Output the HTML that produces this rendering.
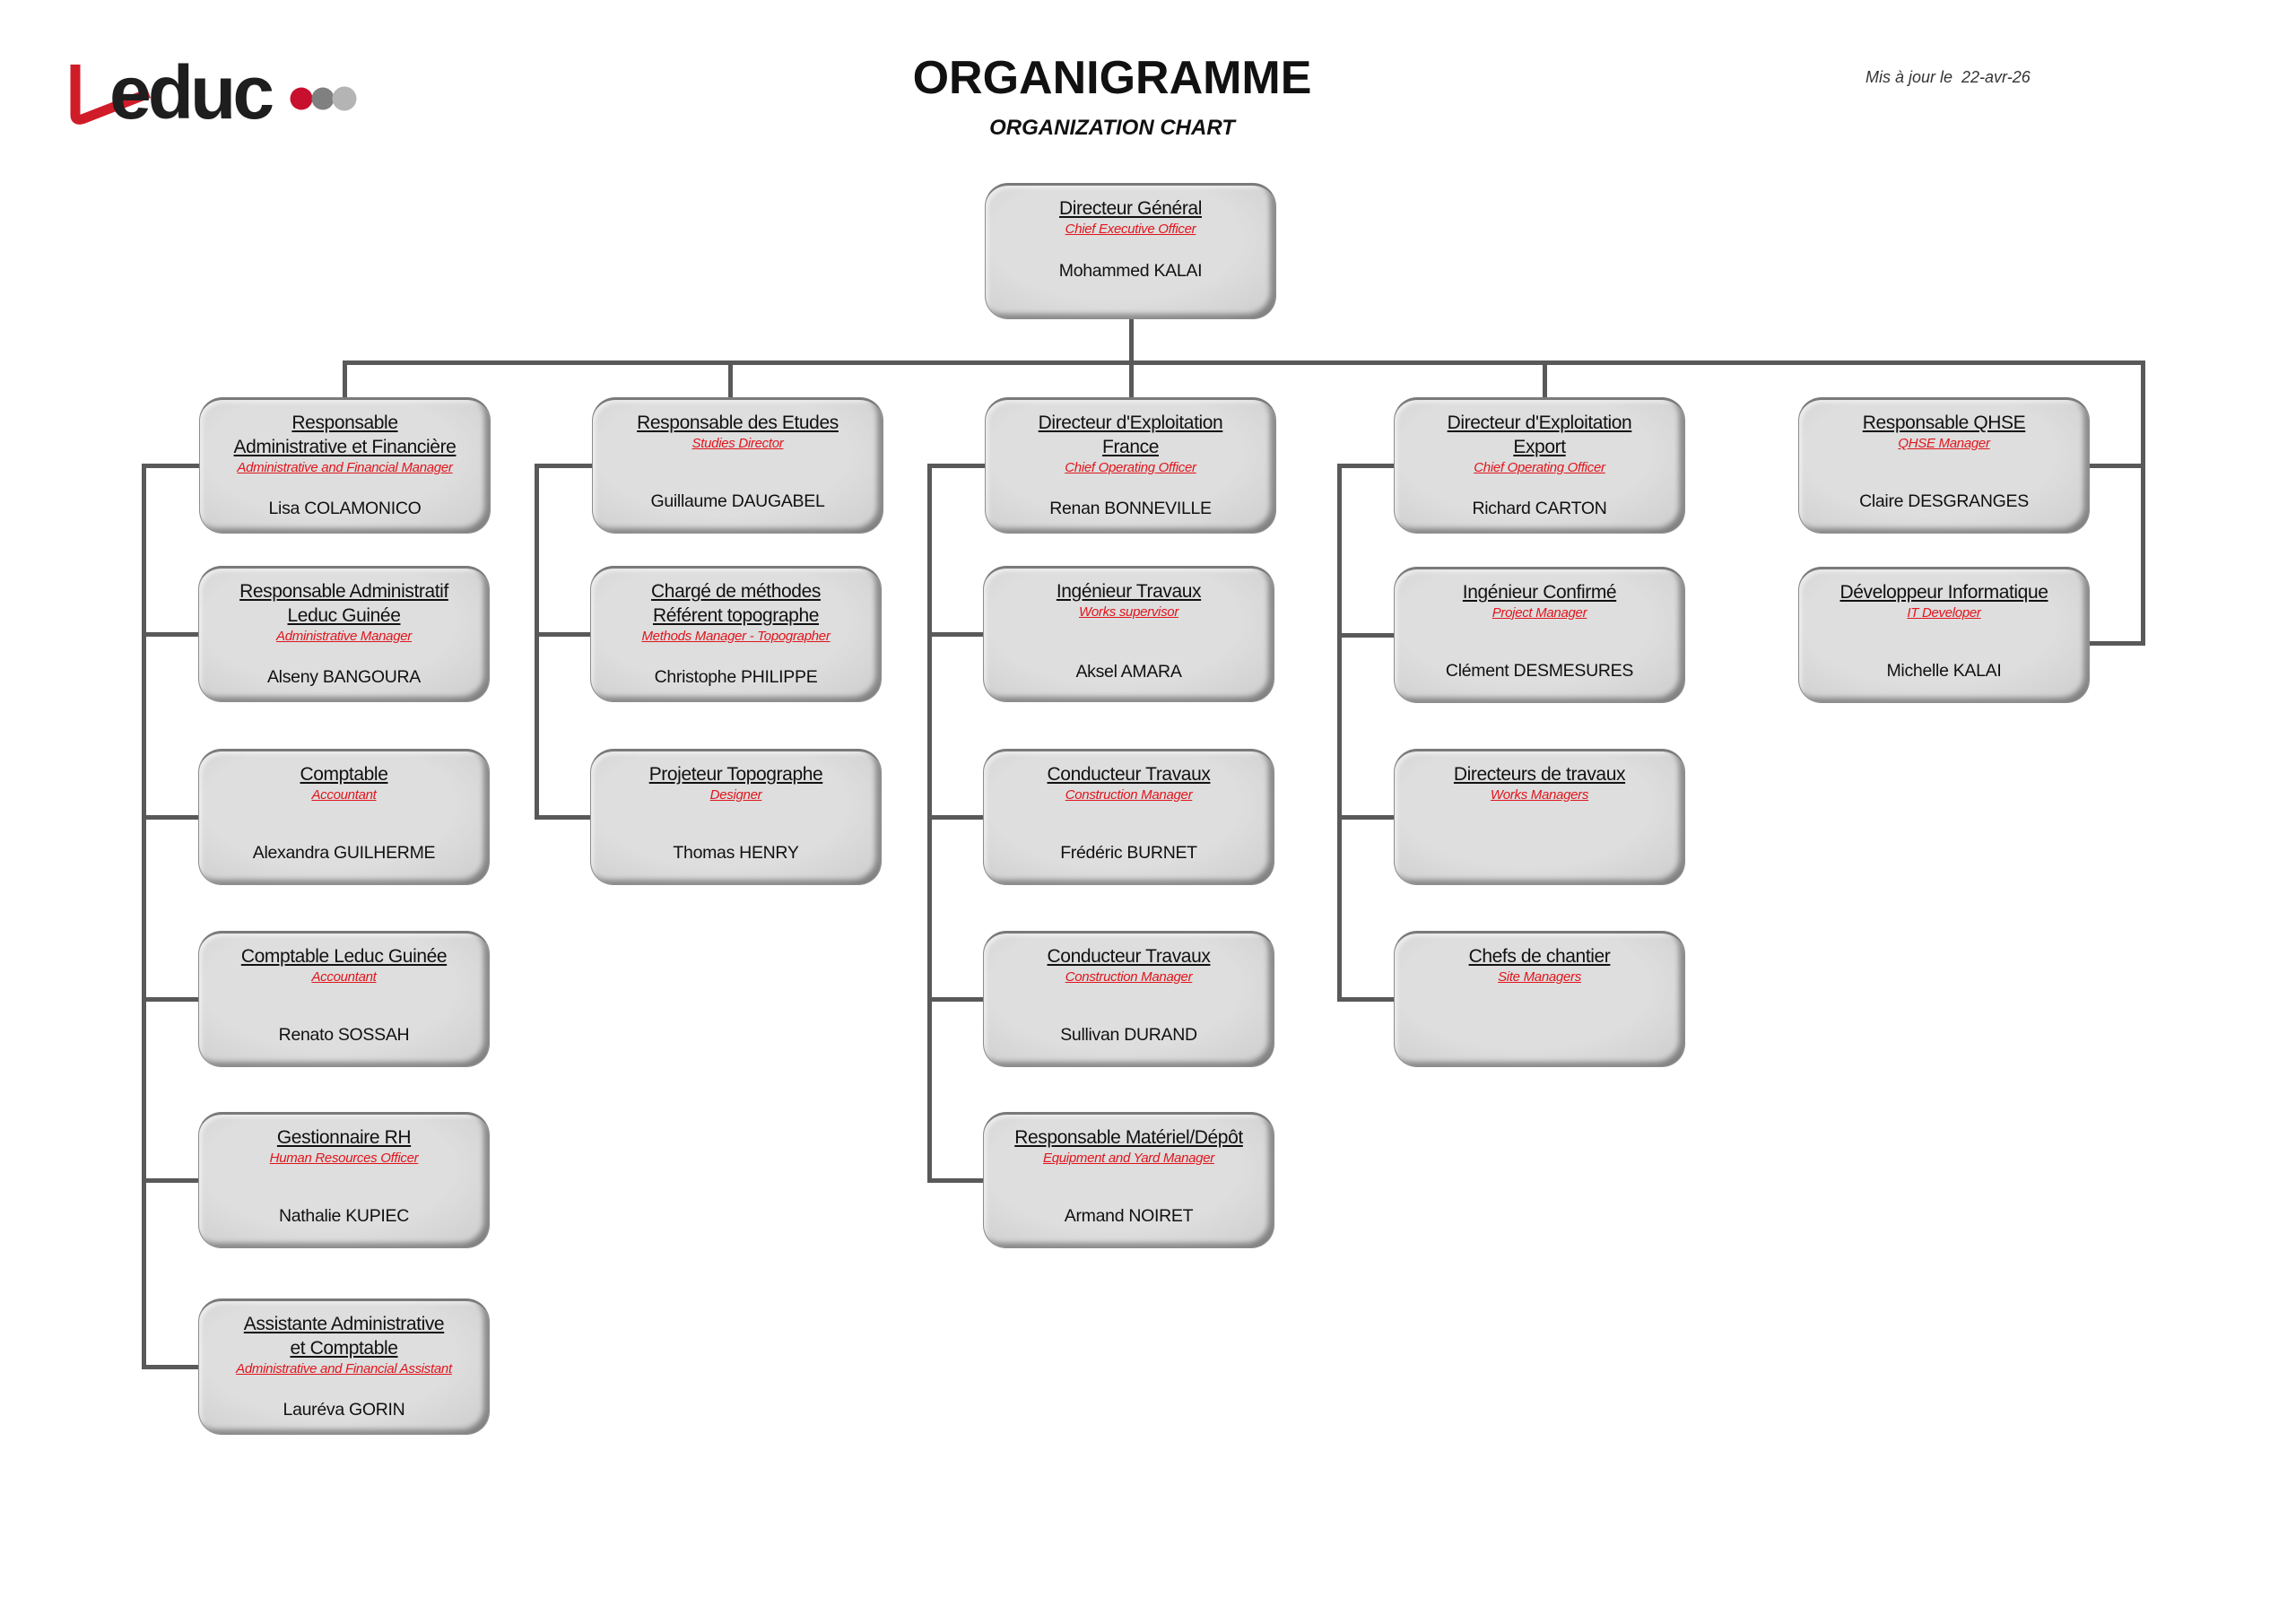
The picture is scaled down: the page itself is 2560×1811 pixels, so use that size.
<!DOCTYPE html>
<html><head><meta charset="utf-8"><style>
html,body{margin:0;padding:0;background:#fff}
body{width:2560px;height:1811px;position:relative;overflow:hidden;font-family:"Liberation Sans",sans-serif}
.l{position:absolute;background:#595959}
.b{position:absolute;width:325px;height:152px;box-sizing:border-box;border-radius:26px;background:radial-gradient(ellipse at 45% 40%,#dedede 55%,#d2d2d2 85%,#bdbdbd 100%);border:1.5px solid #8c8c8c;border-top:3px solid #7a7a7a;box-shadow:inset -6px -5px 6px rgba(0,0,0,.35),inset 3px 3px 4px rgba(255,255,255,.5);text-align:center;padding-top:12px}
.t{font-size:21px;line-height:27px;color:#111;letter-spacing:-0.4px}
.t span,.s span{text-decoration:underline}
.s{font-size:15px;line-height:19px;font-style:italic;color:#e0151c;letter-spacing:-0.3px}
.n{position:absolute;left:0;right:0;font-size:19.5px;line-height:26px;color:#111;top:100px;letter-spacing:-0.3px}
.b2 .n{top:108px}
</style></head><body>

<svg style="position:absolute;left:70px;top:60px" width="350" height="90" viewBox="0 0 350 90">
<path d="M14 12 L14 68 Q14 76 24 72 L96 44" fill="none" stroke="#d01c28" stroke-width="11" stroke-linejoin="round"/>
<text x="52" y="72" font-family="Liberation Sans" font-weight="bold" font-size="84" fill="#1e1e1e" letter-spacing="-4">educ</text>
<circle cx="266" cy="50" r="12.5" fill="#c8102e"/>
<circle cx="290" cy="50" r="12.5" fill="#808080"/>
<circle cx="314" cy="50" r="13.5" fill="#b4b4b4"/>
</svg>

<div style="position:absolute;left:940px;width:600px;top:55px;text-align:center;font-weight:bold;font-size:52px;line-height:64px;color:#111">ORGANIGRAMME</div>
<div style="position:absolute;left:940px;width:600px;top:128px;text-align:center;font-weight:bold;font-style:italic;font-size:24px;line-height:30px;color:#111">ORGANIZATION CHART</div>
<div style="position:absolute;left:2080px;top:74px;font-style:italic;font-size:18px;line-height:24px;color:#333;white-space:pre">Mis à jour le  22-avr-26</div>

<div class="l" style="left:1259px;top:355px;width:5px;height:51px"></div>
<div class="l" style="left:382px;top:402px;width:2010px;height:5px"></div>
<div class="l" style="left:382px;top:402px;width:5px;height:42px"></div>
<div class="l" style="left:812px;top:402px;width:5px;height:42px"></div>
<div class="l" style="left:1259px;top:402px;width:5px;height:42px"></div>
<div class="l" style="left:1720px;top:402px;width:5px;height:42px"></div>
<div class="l" style="left:2387px;top:402px;width:5px;height:318px"></div>
<div class="l" style="left:2328px;top:517px;width:64px;height:5px"></div>
<div class="l" style="left:2328px;top:715px;width:64px;height:5px"></div>

<div class="l" style="left:158px;top:517px;width:5px;height:1010px"></div>
<div class="l" style="left:158px;top:517px;width:66px;height:5px"></div>
<div class="l" style="left:158px;top:705px;width:66px;height:5px"></div>
<div class="l" style="left:158px;top:909px;width:66px;height:5px"></div>
<div class="l" style="left:158px;top:1112px;width:66px;height:5px"></div>
<div class="l" style="left:158px;top:1314px;width:66px;height:5px"></div>
<div class="l" style="left:158px;top:1522px;width:66px;height:5px"></div>

<div class="l" style="left:596px;top:517px;width:5px;height:396px"></div>
<div class="l" style="left:596px;top:517px;width:66px;height:5px"></div>
<div class="l" style="left:596px;top:705px;width:66px;height:5px"></div>
<div class="l" style="left:596px;top:909px;width:66px;height:5px"></div>

<div class="l" style="left:1034px;top:517px;width:5px;height:800px"></div>
<div class="l" style="left:1034px;top:517px;width:66px;height:5px"></div>
<div class="l" style="left:1034px;top:705px;width:66px;height:5px"></div>
<div class="l" style="left:1034px;top:909px;width:66px;height:5px"></div>
<div class="l" style="left:1034px;top:1112px;width:66px;height:5px"></div>
<div class="l" style="left:1034px;top:1314px;width:66px;height:5px"></div>

<div class="l" style="left:1491px;top:517px;width:5px;height:598px"></div>
<div class="l" style="left:1491px;top:517px;width:66px;height:5px"></div>
<div class="l" style="left:1491px;top:706px;width:66px;height:5px"></div>
<div class="l" style="left:1491px;top:909px;width:66px;height:5px"></div>
<div class="l" style="left:1491px;top:1112px;width:66px;height:5px"></div>

<div class="b" style="left:1098px;top:204px"><div class="t"><span>Directeur Général</span></div><div class="s"><span>Chief Executive Officer</span></div><div class="n" style="top:82px">Mohammed KALAI</div></div>

<div class="b b2" style="left:222px;top:443px"><div class="t"><span>Responsable</span><br><span>Administrative et Financière</span></div><div class="s"><span>Administrative and Financial Manager</span></div><div class="n">Lisa COLAMONICO</div></div>
<div class="b" style="left:660px;top:443px"><div class="t"><span>Responsable des Etudes</span></div><div class="s"><span>Studies Director</span></div><div class="n">Guillaume DAUGABEL</div></div>
<div class="b b2" style="left:1098px;top:443px"><div class="t"><span>Directeur d'Exploitation</span><br><span>France</span></div><div class="s"><span>Chief Operating Officer</span></div><div class="n">Renan BONNEVILLE</div></div>
<div class="b b2" style="left:1554px;top:443px"><div class="t"><span>Directeur d'Exploitation</span><br><span>Export</span></div><div class="s"><span>Chief Operating Officer</span></div><div class="n">Richard CARTON</div></div>
<div class="b" style="left:2005px;top:443px"><div class="t"><span>Responsable QHSE</span></div><div class="s"><span>QHSE Manager</span></div><div class="n">Claire DESGRANGES</div></div>

<div class="b b2" style="left:221px;top:631px"><div class="t"><span>Responsable Administratif</span><br><span>Leduc Guinée</span></div><div class="s"><span>Administrative Manager</span></div><div class="n">Alseny BANGOURA</div></div>
<div class="b" style="left:221px;top:835px"><div class="t"><span>Comptable</span></div><div class="s"><span>Accountant</span></div><div class="n">Alexandra GUILHERME</div></div>
<div class="b" style="left:221px;top:1038px"><div class="t"><span>Comptable Leduc Guinée</span></div><div class="s"><span>Accountant</span></div><div class="n">Renato SOSSAH</div></div>
<div class="b" style="left:221px;top:1240px"><div class="t"><span>Gestionnaire RH</span></div><div class="s"><span>Human Resources Officer</span></div><div class="n">Nathalie KUPIEC</div></div>
<div class="b b2" style="left:221px;top:1448px"><div class="t"><span>Assistante Administrative</span><br><span>et Comptable</span></div><div class="s"><span>Administrative and Financial Assistant</span></div><div class="n">Lauréva GORIN</div></div>

<div class="b b2" style="left:658px;top:631px"><div class="t"><span>Chargé de méthodes</span><br><span>Référent topographe</span></div><div class="s"><span>Methods Manager - Topographer</span></div><div class="n">Christophe PHILIPPE</div></div>
<div class="b" style="left:658px;top:835px"><div class="t"><span>Projeteur Topographe</span></div><div class="s"><span>Designer</span></div><div class="n">Thomas HENRY</div></div>

<div class="b" style="left:1096px;top:631px"><div class="t"><span>Ingénieur Travaux</span></div><div class="s"><span>Works supervisor</span></div><div class="n" style="top:102px">Aksel AMARA</div></div>
<div class="b" style="left:1096px;top:835px"><div class="t"><span>Conducteur Travaux</span></div><div class="s"><span>Construction Manager</span></div><div class="n">Frédéric BURNET</div></div>
<div class="b" style="left:1096px;top:1038px"><div class="t"><span>Conducteur Travaux</span></div><div class="s"><span>Construction Manager</span></div><div class="n">Sullivan DURAND</div></div>
<div class="b" style="left:1096px;top:1240px"><div class="t"><span>Responsable Matériel/Dépôt</span></div><div class="s"><span>Equipment and Yard Manager</span></div><div class="n">Armand NOIRET</div></div>

<div class="b" style="left:1554px;top:632px"><div class="t"><span>Ingénieur Confirmé</span></div><div class="s"><span>Project Manager</span></div><div class="n" style="top:100px">Clément DESMESURES</div></div>
<div class="b" style="left:1554px;top:835px"><div class="t"><span>Directeurs de travaux</span></div><div class="s"><span>Works Managers</span></div></div>
<div class="b" style="left:1554px;top:1038px"><div class="t"><span>Chefs de chantier</span></div><div class="s"><span>Site Managers</span></div></div>

<div class="b" style="left:2005px;top:632px"><div class="t"><span>Développeur Informatique</span></div><div class="s"><span>IT Developer</span></div><div class="n" style="top:100px">Michelle KALAI</div></div>

</body></html>
